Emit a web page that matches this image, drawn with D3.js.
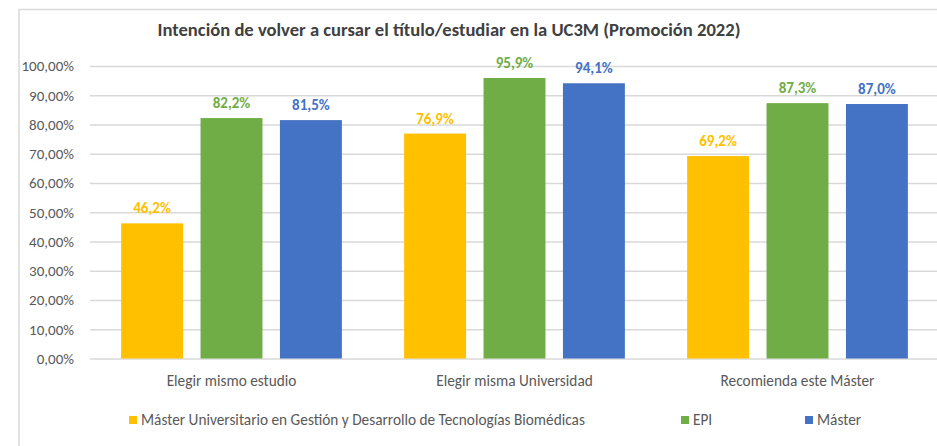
<!DOCTYPE html>
<html lang="es">
	<head>
		<meta charset="utf-8">
		<title>Intención de volver a cursar</title>
        <script type="text/javascript" src="https://cdn.jsdelivr.net/npm/d3@7/dist/d3.min.js"></script>
		<style type="text/css">
            body { margin: 0; background: #fff; }
            text { font-family: Carlito, Lato, "Open Sans", sans-serif; }
        </style>
	</head>
	<body>
        <script type="text/javascript">
            var categories = ["Elegir mismo estudio", "Elegir misma Universidad", "Recomienda este Máster"];
            var seriesNames = ["Máster Universitario en Gestión y Desarrollo de Tecnologías Biomédicas", "EPI", "Máster"];
            var mugdtb = [46.2, 76.9, 69.2];
            var epi = [82.2, 95.9, 87.3];
            var master = [81.5, 94.1, 87.0];
            var yTicks = [0, 10, 20, 30, 40, 50, 60, 70, 80, 90, 100];
            var colors = ["#FFC000", "#70AD47", "#4472C4"];

            var W = 937, H = 446;
            var margin = {top: 66, left: 90, bottom: 87.5};
            var plotW = 849;
            var height = H - margin.top - margin.bottom;

            var svg = d3.select("body").append("svg")
                        .attr("width", W)
                        .attr("height", H);

            // frame of the chart area
            svg.append("rect")
                .attr("x", 19).attr("y", 9.5)
                .attr("width", 940).attr("height", 460)
                .attr("fill", "none")
                .attr("stroke", "#d9d9d9")
                .attr("stroke-width", 1.5);

            svg.append("text")
                .attr("x", 449).attr("y", 36)
                .attr("text-anchor", "middle")
                .attr("font-size", 18.6)
                .attr("font-weight", "bold")
                .attr("fill", "#404040")
                .text("Intención de volver a cursar el título/estudiar en la UC3M (Promoción 2022)");

            var g = svg.append("g")
                        .attr("transform", "translate(" + margin.left + "," + margin.top + ")");

            var xScale = d3.scaleBand()
                            .domain(categories)
                            .range([0, plotW])
                            .paddingInner(0.22)
                            .paddingOuter(0.11);

            var xInner = d3.scaleBand()
                            .domain(d3.range(seriesNames.length))
                            .range([0, xScale.bandwidth()])
                            .paddingInner(0.22);

            var yScale = d3.scaleLinear()
                            .domain([0, 100])
                            .range([height, 0]);

            var yAxis = d3.axisLeft()
                            .scale(yScale)
                            .tickValues(yTicks)
                            .tickSize(-plotW)
                            .tickPadding(16)
                            .tickFormat(function(d) { return d.toFixed(2).replace(".", ",") + "%"; });

            var ya = g.append("g").call(yAxis);
            ya.select(".domain").remove();
            ya.selectAll("line").attr("stroke", "#d9d9d9").attr("stroke-width", 1.3);
            ya.selectAll("text")
                .attr("x", -16)
                .attr("font-size", 15)
                .attr("fill", "#595959")
                .attr("font-family", "Carlito, Lato, 'Open Sans', sans-serif");

            var table = categories.map(function(c, i) {
                return {cat: c, values: [mugdtb[i], epi[i], master[i]]};
            });

            var groups = g.selectAll(".grp")
                            .data(table)
                            .enter().append("g")
                            .attr("class", "grp")
                            .attr("transform", function(d) { return "translate(" + xScale(d.cat) + ",0)"; });

            var bars = groups.selectAll("g.bar")
                            .data(function(d) { return d.values.map(function(v, k) { return {k: k, v: v}; }); })
                            .enter().append("g")
                            .attr("class", "bar");

            bars.append("rect")
                .attr("x", function(d) { return xInner(d.k); })
                .attr("y", function(d) { return yScale(d.v); })
                .attr("width", xInner.bandwidth())
                .attr("height", function(d) { return height - yScale(d.v); })
                .attr("fill", function(d) { return colors[d.k]; });

            bars.append("text")
                .attr("x", function(d) { return xInner(d.k) + xInner.bandwidth() / 2; })
                .attr("y", function(d) { return yScale(d.v) - 10; })
                .attr("text-anchor", "middle")
                .attr("font-size", 15)
                .attr("font-weight", "bold")
                .attr("fill", function(d) { return colors[d.k]; })
                .text(function(d) { return d.v.toFixed(1).replace(".", ",") + "%"; });

            g.selectAll(".cat")
                .data(categories)
                .enter().append("text")
                .attr("class", "cat")
                .attr("x", function(d) { return xScale(d) + xScale.bandwidth() / 2; })
                .attr("y", height + 27)
                .attr("text-anchor", "middle")
                .attr("font-size", 15.3)
                .attr("fill", "#595959")
                .text(function(d) { return d; });

            // legend
            var legendX = [129, 681, 805];
            var legend = svg.selectAll(".leg")
                            .data(seriesNames)
                            .enter().append("g")
                            .attr("class", "leg")
                            .attr("transform", function(d, i) { return "translate(" + legendX[i] + ",416)"; });

            legend.append("rect")
                .attr("width", 8).attr("height", 8)
                .attr("fill", function(d, i) { return colors[i]; });

            legend.append("text")
                .attr("x", 12).attr("y", 4)
                .attr("dy", "0.35em")
                .attr("font-size", 15.3)
                .attr("fill", "#595959")
                .text(function(d) { return d; });
		</script>
	</body>
</html>
